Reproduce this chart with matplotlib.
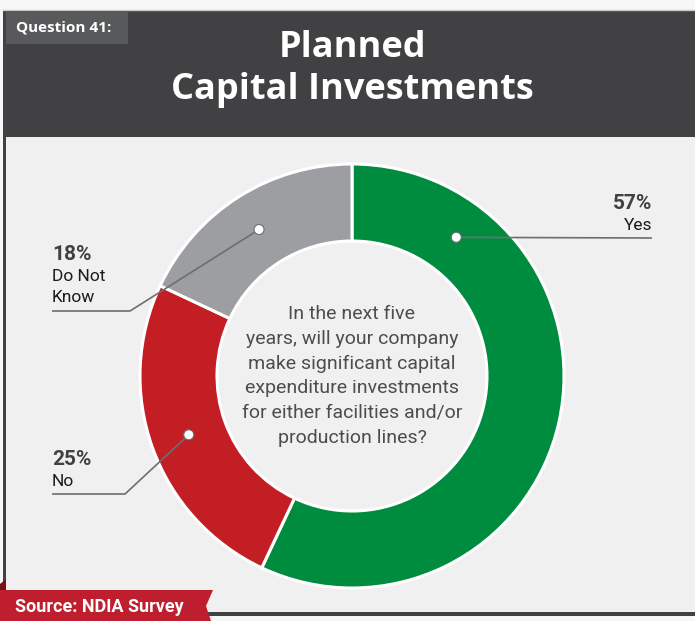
import numpy as np
import matplotlib

matplotlib.use("Agg")
import matplotlib.pyplot as plt  # noqa: E402
from matplotlib.patches import Polygon, Rectangle, Circle  # noqa: E402

# ── Data ──
labels = ["Yes", "No", "Do Not\nKnow"]
shares = [57, 25, 18]
colors = ["#008c3e", "#c41e25", "#9d9ea2"]
# where along each wedge (0..1, clockwise) the leader line starts
anchor_frac = [0.18, 0.5, 0.5]

question = ("In the next five\nyears, will your company\nmake significant capital\n"
            "expenditure investments\nfor either facilities and/or\nproduction lines?")

W, H = 695, 621
BG = "#f0f0f0"
DARK = "#414042"
TEXT = "#414042"
LINE = "#6d6e71"


def Y(y):
    # top-down pixel y -> axes y (bottom up)
    return H - y


fig = plt.figure(figsize=(W / 100, H / 100), dpi=100, facecolor="#f7f7f7")
ax = fig.add_axes([0, 0, 1, 1])

# ── Panel frame ──
ax.add_patch(Rectangle((3, Y(616)), W, 616 - 137, facecolor=DARK, edgecolor="none", zorder=0))
ax.add_patch(Rectangle((6, Y(612)), W, 612 - 137, facecolor=BG, edgecolor="none", zorder=0.5))
ax.add_patch(Rectangle((3, Y(137)), W, 137 - 10, facecolor=DARK, edgecolor="none", zorder=1))
ax.plot([3, W], [Y(9.5), Y(9.5)], color="#c8c8c8", lw=1, zorder=1)

# question tag
ax.add_patch(Rectangle((6, Y(44)), 122, 33, facecolor="#58595b", edgecolor="none", zorder=2))
ax.text(16, Y(28), "Question 41:", color="white", fontsize=11, fontweight="bold",
        family="Open Sans", ha="left", va="center", zorder=3)

ax.text(352, Y(48), "Planned", color="white", fontsize=26,
        fontweight="bold", family="Open Sans", ha="center", va="center", zorder=3)
ax.text(352, Y(90), "Capital Investments", color="white", fontsize=26,
        fontweight="bold", family="Open Sans", ha="center", va="center", zorder=3)

# ── Donut ──
cx, cy, r_out = 352, Y(376), 212
width = 77
wedges, _ = ax.pie(shares, colors=colors, startangle=90, counterclock=False,
                   center=(cx, cy), radius=r_out, frame=True,
                   wedgeprops=dict(width=width, edgecolor="white", linewidth=2.2))
for w in wedges:
    w.set_zorder(2)

ax.text(cx, Y(376), question, color="#4d4d4f", fontsize=14, family="Roboto",
        ha="center", va="center", linespacing=1.47, zorder=4)

# leader anchors on the ring
r_mid = r_out - width / 2
total = sum(shares)
start = 90.0
anchors = []
for s, f in zip(shares, anchor_frac):
    span = 360.0 * s / total
    ang = np.radians(start - span * f)
    anchors.append((cx + r_mid * np.cos(ang), cy + r_mid * np.sin(ang)))
    start -= span

# label layout: (elbow x, line y, text x, alignment)
layout = [
    (None, 238, 652, "right"),
    (125, 494, 52, "left"),
    (130, 311, 52, "left"),
]

for (ax_pt, ay_pt), (ex, ly, tx, ha), lab, s in zip(anchors, layout, labels, shares):
    if ex is None:
        xs, ys = [ax_pt, tx], [ay_pt, Y(ly)]
    else:
        xs, ys = [ax_pt, ex, tx], [ay_pt, Y(ly), Y(ly)]
    ax.plot(xs, ys, color=LINE, lw=1.2, zorder=3, solid_capstyle="butt")
    ax.add_patch(Circle((ax_pt, ay_pt), 5, facecolor="white", edgecolor=LINE,
                        lw=0.8, zorder=5))
    rows = lab.split("\n")
    y = ly - 13
    for row in reversed(rows):
        ax.text(tx, Y(y), row, color="#1a1a1a", fontsize=12.5, family="Roboto",
                ha=ha, va="center", zorder=4)
        y -= 21.5
    ax.text(tx, Y(y), f"{s}%", color=TEXT, fontsize=15, fontweight="bold",
            family="Roboto", ha=ha, va="center", zorder=4)

# ── Source banner ──
ax.add_patch(Polygon([(0, Y(590)), (6, Y(590)), (6, Y(579)), (0, Y(584))],
                     closed=True, facecolor="#7a1016", edgecolor="none", zorder=6))
ax.add_patch(Polygon([(0, Y(590)), (213, Y(590)), (206, Y(606)), (211, Y(621)), (0, Y(621))],
                     closed=True, facecolor="#be1e2d", edgecolor="none", zorder=6))
ax.text(15, Y(607), "Source: NDIA Survey", color="white", fontsize=13,
        fontweight="bold", family="Roboto", ha="left", va="center", zorder=7)

ax.set_xlim(0, W)
ax.set_ylim(0, H)
ax.set_aspect("auto")
ax.axis("off")

fig.savefig("out.png", dpi=100, facecolor=fig.get_facecolor())
